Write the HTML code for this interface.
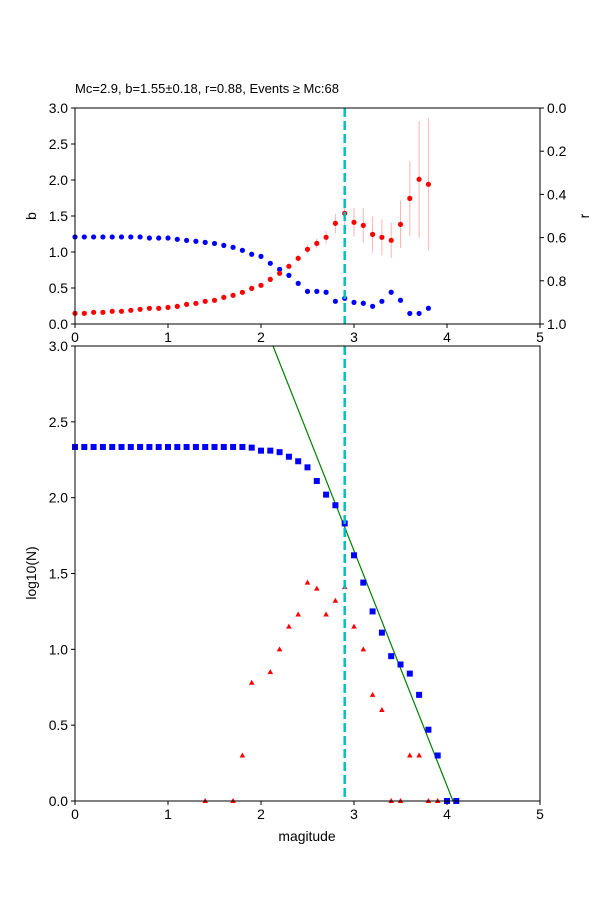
<!DOCTYPE html>
<html><head><meta charset="utf-8"><style>body{margin:0;background:#fff}svg{display:block;font-family:"Liberation Sans","DejaVu Sans",sans-serif}</style></head>
<body>
<svg id="chart" width="600" height="900" viewBox="0 0 600 900" xmlns="http://www.w3.org/2000/svg"></svg>
<script>
const mags = [0,0.1,0.2,0.3,0.4,0.5,0.6,0.7,0.8,0.9,1.0,1.1,1.2,1.3,1.4,1.5,1.6,1.7,1.8,1.9,2.0,2.1,2.2,2.3,2.4,2.5,2.6,2.7,2.8,2.9,3.0,3.1,3.2,3.3,3.4,3.5,3.6,3.7,3.8,3.9,4.0,4.1];
const bValues = [0.148,0.148,0.162,0.162,0.176,0.176,0.19,0.204,0.218,0.218,0.231,0.245,0.273,0.287,0.315,0.329,0.37,0.398,0.44,0.495,0.537,0.62,0.704,0.801,0.912,1.037,1.12,1.204,1.398,1.537,1.412,1.37,1.245,1.204,1.162,1.384,1.745,2.01,1.94];
const bErrors = [0.02,0.02,0.02,0.02,0.02,0.02,0.02,0.02,0.02,0.02,0.02,0.02,0.02,0.02,0.02,0.02,0.02,0.02,0.03,0.03,0.03,0.04,0.04,0.04,0.05,0.06,0.07,0.09,0.134,0.21,0.2,0.24,0.25,0.25,0.245,0.33,0.52,0.81,0.92];
const rValues = [0.597,0.597,0.597,0.597,0.597,0.597,0.597,0.597,0.602,0.602,0.602,0.608,0.613,0.617,0.622,0.627,0.636,0.645,0.659,0.677,0.687,0.719,0.747,0.775,0.812,0.849,0.849,0.853,0.895,0.881,0.9,0.904,0.918,0.895,0.853,0.89,0.951,0.951,0.927];
const cumLogN = [2.334,2.334,2.334,2.334,2.334,2.334,2.334,2.334,2.334,2.334,2.334,2.334,2.334,2.334,2.334,2.334,2.334,2.334,2.334,2.33,2.31,2.31,2.30,2.27,2.24,2.20,2.11,2.02,1.95,1.83,1.62,1.44,1.25,1.11,0.955,0.90,0.84,0.70,0.47,0.30,0,0];
const nonCumLogN = [null,null,null,null,null,null,null,null,null,null,null,null,null,null,0,null,null,0,0.30,0.78,null,0.85,1.0,1.15,1.23,1.44,1.40,1.23,1.32,1.41,1.15,1.0,0.70,0.60,0,0,0.30,0.30,0,0,null,null];
const Mc = 2.9, fitA = 6.30, fitB = 1.55;
const xTicks = [0,1,2,3,4,5];
const bTicks = [0,0.5,1,1.5,2,2.5,3];
const rTicks = [0,0.2,0.4,0.6,0.8,1.0];
const nTicks = [0,0.5,1,1.5,2,2.5,3];

const svg = document.getElementById('chart');
const NS = 'http://www.w3.org/2000/svg';
function mk(tag, attrs, parent){const e=document.createElementNS(NS,tag);for(const k in attrs)e.setAttribute(k,attrs[k]);(parent||svg).appendChild(e);return e;}
const L=75,R=540;
const T1=108,B1=324,T2=346,B2=801;
const x = m => L + (m/5)*(R-L);
const yB = v => B1 - (v/3)*(B1-T1);
const yR = v => T1 + v*(B1-T1);
const yN = v => B2 - (v/3)*(B2-T2);
const FS = 13.9;

// title
let t = mk('text',{x:75,y:93,'font-size':13,fill:'#000'});
t.textContent='Mc=2.9, b=1.55±0.18, r=0.88, Events ≥ Mc:68';



// ---- top panel
const g1 = mk('g',{});


bErrors.forEach((e,i)=>{
  const l=mk('line',{x1:x(mags[i]),x2:x(mags[i]),y1:yB(bValues[i]-e),y2:yB(bValues[i]+e),stroke:'#ffb3b3','stroke-width':1},g1);
  
  
});
rValues.forEach((v,i)=>{
  const c=mk('circle',{cx:x(mags[i]),cy:yR(v),r:2.6,fill:'#0000ff'},g1);
  
  
});
bValues.forEach((v,i)=>{
  const c=mk('circle',{cx:x(mags[i]),cy:yB(v),r:2.6,fill:'#ff0000'},g1);
  
  
});
let mc1=mk('line',{x1:x(Mc),x2:x(Mc),y1:T1,y2:B1,stroke:'#00bfbf','stroke-width':2.5,'stroke-dasharray':'9,4'},g1);


let f1=mk('rect',{x:L,y:T1,width:R-L,height:B1-T1,fill:'none',stroke:'#000','stroke-width':1},g1);


xTicks.forEach(v=>{
  mk('line',{x1:x(v),x2:x(v),y1:B1,y2:B1+4,stroke:'#000'},g1);
  const tt=mk('text',{x:x(v),y:B1+18,'font-size':FS,'text-anchor':'middle'},g1);tt.textContent=v;
  
  
});
bTicks.forEach(v=>{
  mk('line',{x1:L-4,x2:L,y1:yB(v),y2:yB(v),stroke:'#000'},g1);
  const tt=mk('text',{x:L-7,y:yB(v)+5,'font-size':FS,'text-anchor':'end'},g1);tt.textContent=v.toFixed(1);
  
  
});
rTicks.forEach(v=>{
  mk('line',{x1:R,x2:R+4,y1:yR(v),y2:yR(v),stroke:'#000'},g1);
  const tt=mk('text',{x:R+7,y:yR(v)+5,'font-size':FS},g1);tt.textContent=v.toFixed(1);
  
  
});
let bl=mk('text',{x:36,y:216,'font-size':FS,'text-anchor':'middle',transform:'rotate(-90 36 216)'},g1);bl.textContent='b';


let rl=mk('text',{x:589,y:216,'font-size':FS,'text-anchor':'middle',transform:'rotate(-90 589 216)'},g1);rl.textContent='r';



// ---- bottom panel
const g2 = mk('g',{});


mk('clipPath',{id:'clip2'},g2).appendChild(Object.assign(document.createElementNS(NS,'rect')));
const cr=g2.querySelector('#clip2 rect');cr.setAttribute('x',L);cr.setAttribute('y',T2);cr.setAttribute('width',R-L);cr.setAttribute('height',B2-T2);
const m0=(fitA-3)/fitB, m1=fitA/fitB;
let fit=mk('line',{x1:x(m0),y1:yN(fitA-fitB*m0),x2:x(m1+0.05),y2:yN(fitA-fitB*(m1+0.05)),stroke:'#008000','stroke-width':1.2,'clip-path':'url(#clip2)'},g2);


cumLogN.forEach((v,i)=>{
  const s=mk('rect',{x:x(mags[i])-3,y:yN(v)-3,width:6,height:6,fill:'#0000ff'},g2);
  
  
});
nonCumLogN.forEach((v,i)=>{
  if(v===null)return;
  const cx=x(mags[i]),cy=yN(v);
  const p=mk('polygon',{points:`${cx},${cy-3} ${cx-2.8},${cy+2} ${cx+2.8},${cy+2}`,fill:'#ff0000'},g2);
  
  
});
let mc2=mk('line',{x1:x(Mc),x2:x(Mc),y1:T2,y2:B2,stroke:'#00bfbf','stroke-width':2.5,'stroke-dasharray':'9,4'},g2);


let f2=mk('rect',{x:L,y:T2,width:R-L,height:B2-T2,fill:'none',stroke:'#000','stroke-width':1},g2);


xTicks.forEach(v=>{
  mk('line',{x1:x(v),x2:x(v),y1:B2,y2:B2+4,stroke:'#000'},g2);
  const tt=mk('text',{x:x(v),y:B2+18,'font-size':FS,'text-anchor':'middle'},g2);tt.textContent=v;
  
  
});
nTicks.forEach(v=>{
  mk('line',{x1:L-4,x2:L,y1:yN(v),y2:yN(v),stroke:'#000'},g2);
  const tt=mk('text',{x:L-7,y:yN(v)+5,'font-size':FS,'text-anchor':'end'},g2);tt.textContent=v.toFixed(1);
  
  
});
let xl=mk('text',{x:307,y:841,'font-size':FS,'text-anchor':'middle'},g2);xl.textContent='magitude';


let yl=mk('text',{x:36,y:573,'font-size':FS,'text-anchor':'middle',transform:'rotate(-90 36 573)'},g2);yl.textContent='log10(N)';


</script>
</body></html>
